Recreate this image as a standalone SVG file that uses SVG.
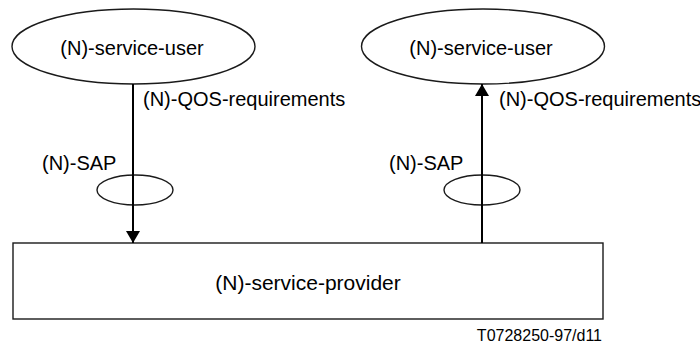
<svg xmlns="http://www.w3.org/2000/svg" width="700" height="347" viewBox="0 0 700 347">
  <style>
    .bg { fill: #ffffff; }
    .shape { fill: #ffffff; stroke: #1a1a1a; stroke-width: 1.4; }
    .sap { fill: none; stroke: #1a1a1a; stroke-width: 1.4; }
    .flow { stroke: #000000; stroke-width: 2; fill: none; }
    .lbl { font-family: "Liberation Sans", Arial, sans-serif; font-size: 20px; fill: #000000; }
    .mid { text-anchor: middle; }
    .big { font-size: 21px; }
    .ref { font-family: "Liberation Sans", Arial, sans-serif; font-size: 16px; fill: #000000; text-anchor: end; }
  </style>
  <defs>
    <marker id="arrow" viewBox="0 0 12 14" refX="12" refY="7" markerWidth="12" markerHeight="14" markerUnits="userSpaceOnUse" orient="auto">
      <path d="M0,0 L12,7 L0,14 Z" fill="#000000"/>
    </marker>
  </defs>

  <rect class="bg" x="0" y="0" width="700" height="347"/>

  <!-- service users -->
  <g id="user-left">
    <ellipse class="shape" cx="133.5" cy="46.5" rx="121.5" ry="37.5"/>
    <text class="lbl mid" x="132" y="55">(N)-service-user</text>
  </g>
  <g id="user-right">
    <ellipse class="shape" cx="483" cy="46.5" rx="121.5" ry="37.5"/>
    <text class="lbl mid" x="481" y="55">(N)-service-user</text>
  </g>

  <!-- service provider -->
  <g id="provider">
    <rect class="shape" x="13" y="243" width="590" height="76"/>
    <text class="lbl big mid" x="308" y="290">(N)-service-provider</text>
  </g>

  <!-- service access points -->
  <g id="sap-left">
    <ellipse class="sap" cx="135" cy="190" rx="38" ry="15"/>
    <text class="lbl" x="42" y="170">(N)-SAP</text>
  </g>
  <g id="sap-right">
    <ellipse class="sap" cx="482" cy="190" rx="38" ry="15"/>
    <text class="lbl" x="389" y="170">(N)-SAP</text>
  </g>

  <!-- QOS requirement flows -->
  <g id="connectors">
    <line class="flow" x1="133" y1="84" x2="133" y2="243" marker-end="url(#arrow)"/>
    <line class="flow" x1="482" y1="243" x2="482" y2="84" marker-end="url(#arrow)"/>
    <text class="lbl" x="143" y="106">(N)-QOS-requirements</text>
    <text class="lbl" x="499" y="106">(N)-QOS-requirements</text>
  </g>

  <text class="ref" x="602" y="341">T0728250-97/d11</text>
</svg>
